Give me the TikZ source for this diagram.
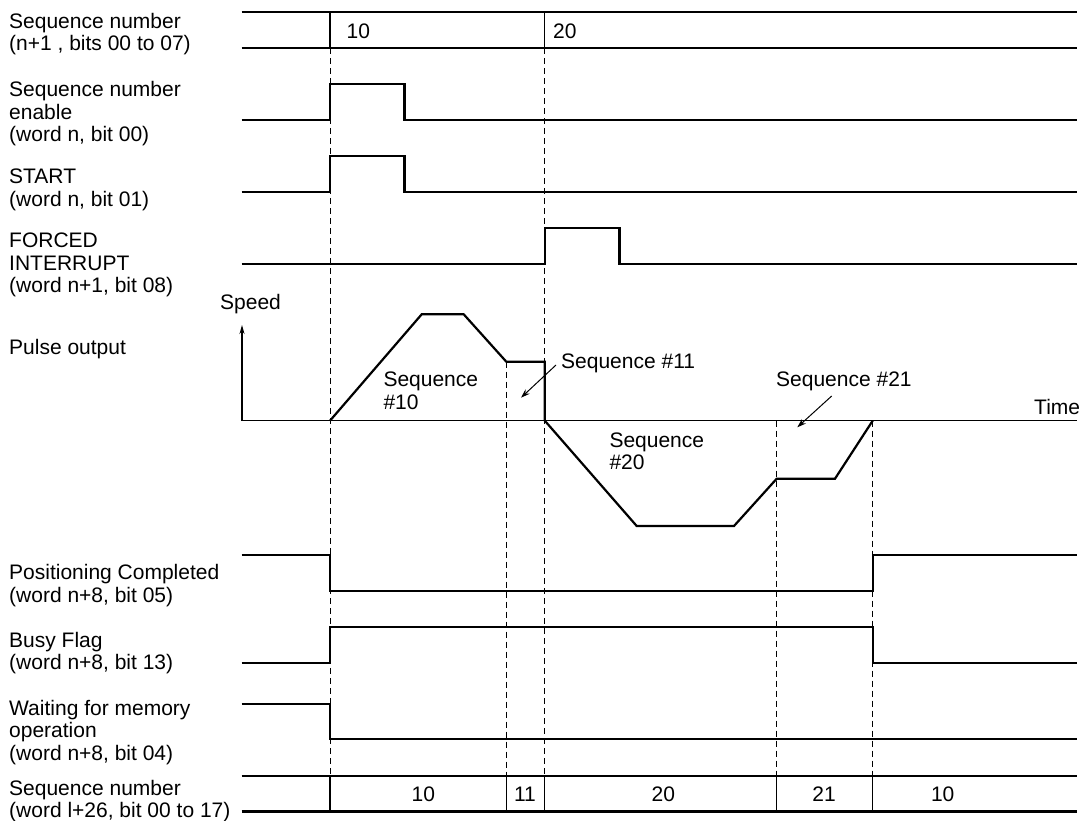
\documentclass[tikz,border=0pt]{standalone}
\usepackage{fontspec}
\setmainfont{Liberation Sans}
\usetikzlibrary{arrows.meta}
\tikzset{
  sig/.style={line width=2.2pt, line join=miter},
  guide/.style={dash pattern=on 6pt off 4pt, line width=0.8pt},
  divider/.style={line width=1.1pt},
  axisline/.style={line width=1.2pt},
  lbl/.style={anchor=base west, inner sep=0pt, font=\fontsize{21}{22.6}\selectfont},
  busnum/.style={anchor=base, inner sep=0pt, font=\fontsize{21}{22.6}\selectfont},
  ptr/.style={-{Stealth[length=9pt,width=6pt]}, line width=1pt},
  speedarrow/.style={-{Stealth[length=9pt,width=5pt]}, line width=1.2pt}
}
\begin{document}
\begin{tikzpicture}[x=1pt,y=-1pt]
\useasboundingbox (0,0) rectangle (1085,821);
% event times
\def\ta{330}\def\tb{506.3}\def\tc{544.8}\def\td{776.7}\def\te{872.7}
\def\xs{241.7}\def\xe{1077}

% dashed guides
\draw[guide] (\ta,48.3) -- (\ta,776);
\draw[guide] (\tc,48.3) -- (\tc,776);
\draw[guide] (\tb,361.7) -- (\tb,776);
\draw[guide] (\td,420.7) -- (\td,776);
\draw[guide] (\te,420.7) -- (\te,776);

% left labels
\node[lbl] (l1) at (9,28.3) {\parbox[t]{300pt}{Sequence number\\(n+1 , bits 00 to 07)}};
\node[lbl] (l2) at (9,96.7) {\parbox[t]{300pt}{Sequence number\\enable\\(word n, bit 00)}};
\node[lbl] (l3) at (9,183.5) {\parbox[t]{300pt}{START\\(word n, bit 01)}};
\node[lbl] (l4) at (9,247.5) {\parbox[t]{300pt}{FORCED\\INTERRUPT\\(word n+1, bit 08)}};
\node[lbl] (l5) at (9,354) {Pulse output};
\node[lbl] (l6) at (9,579.5) {\parbox[t]{300pt}{Positioning Completed\\(word n+8, bit 05)}};
\node[lbl] (l7) at (9,647) {\parbox[t]{300pt}{Busy Flag\\(word n+8, bit 13)}};
\node[lbl] (l8) at (9,715) {\parbox[t]{300pt}{Waiting for memory\\operation\\(word n+8, bit 04)}};
\node[lbl] (l9) at (9,795) {\parbox[t]{300pt}{Sequence number\\(word l+26, bit 00 to 17)}};

% top sequence number bus
\draw[sig] (\xs,12.3) -- (\xe,12.3);
\draw[sig] (\xs,48.3) -- (\xe,48.3);
\draw[divider] (\ta,12.3) -- (\ta,48.3);
\draw[divider] (\tc,12.3) -- (\tc,48.3);
\node[lbl] (t10) at (346.5,38.3) {10};
\node[lbl] (t20) at (553,38.3) {20};

% sequence number enable
\draw[sig] (\xs,120) -- (\ta,120) -- (\ta,84.3) -- (404.5,84.3) -- (404.5,120) -- (\xe,120);
% START
\draw[sig] (\xs,192) -- (\ta,192) -- (\ta,156) -- (404.5,156) -- (404.5,192) -- (\xe,192);
% FORCED INTERRUPT
\draw[sig] (\xs,264.3) -- (\tc,264.3) -- (\tc,228.3) -- (619.5,228.3) -- (619.5,264.3) -- (\xe,264.3);

% pulse output axes
\coordinate (O) at (242,420.7);
\coordinate (speedtip) at (242,325);
\coordinate (timeend) at (\xe,420.7);
\draw[speedarrow] (O) -- (speedtip);
\draw[axisline] (O) -- (timeend);
\node[lbl] (speed) at (220,309.3) {Speed};
\node[lbl] (time) at (1034,414) {Time};

% pulse profile
\draw[sig] (\ta,420.7) -- (421.7,314.3) -- (463.7,314.3) -- (\tb,361.7) -- (\tc,361.7)
  -- (\tc,420.7) -- (636.7,526) -- (734,526) -- (\td,478.7) -- (835,478.7) -- (\te,420.7);

% pulse labels
\node[lbl] (s10) at (383.3,386.7) {\parbox[t]{120pt}{Sequence\\\#10}};
\node[lbl] (s11) at (561,368.3) {Sequence \#11};
\node[lbl] (s20) at (609.3,447) {\parbox[t]{120pt}{Sequence\\\#20}};
\node[lbl] (s21) at (776,386.7) {Sequence \#21};
\coordinate (a11s) at (556,365);
\coordinate (a11e) at (521,397.7);
\coordinate (a21s) at (831.7,396);
\coordinate (a21e) at (797.3,427.3);
\draw[ptr] (a11s) -- (a11e);
\draw[ptr] (a21s) -- (a21e);

% Positioning Completed
\draw[sig] (\xs,555) -- (\ta,555) -- (\ta,591) -- (\te,591) -- (\te,555) -- (\xe,555);
% Busy Flag
\draw[sig] (\xs,662.7) -- (\ta,662.7) -- (\ta,627.3) -- (\te,627.3) -- (\te,662.7) -- (\xe,662.7);
% Waiting for memory operation
\draw[sig] (\xs,704) -- (\ta,704) -- (\ta,739.3) -- (\xe,739.3);

% bottom sequence number bus
\draw[sig] (\xs,776) -- (\xe,776);
\draw[sig] (\xs,811.5) -- (\xe,811.5);
\foreach \t in {\ta,\tb,\tc,\td,\te} \draw[divider] (\t,776) -- (\t,811.5);
\node[busnum] (b1) at (423.3,801.7) {10};
\node[busnum] (b2) at (525,801.7) {11};
\node[busnum] (b3) at (663.3,801.7) {20};
\node[busnum] (b4) at (824,801.7) {21};
\node[busnum] (b5) at (942.7,801.7) {10};
\end{tikzpicture}
\end{document}
